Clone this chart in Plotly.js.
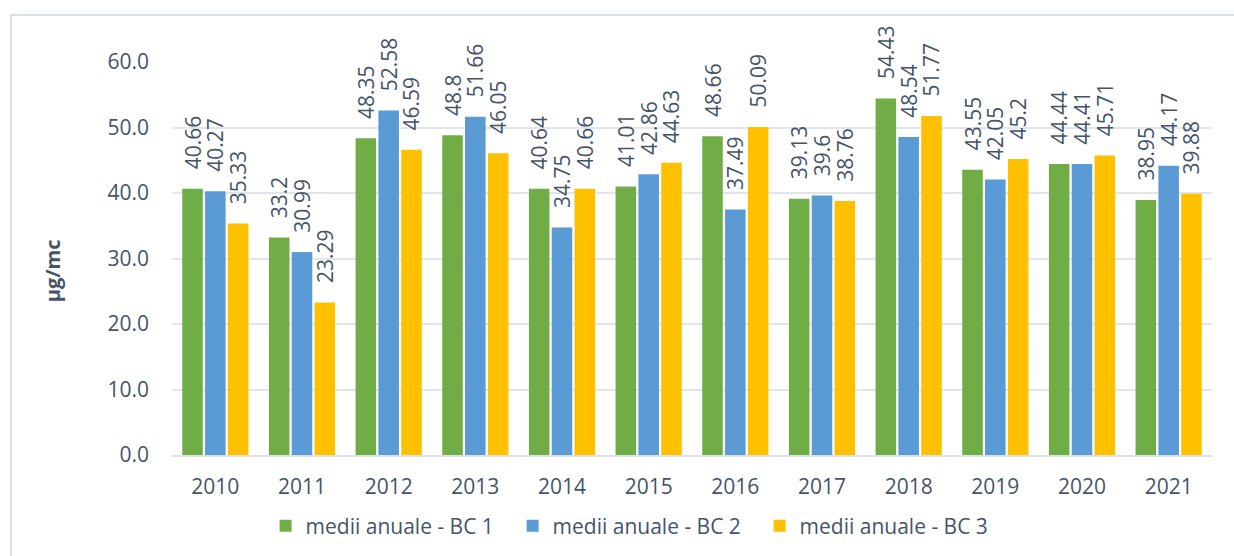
<!DOCTYPE html>
<html>
<head>
<meta charset="utf-8">
<script src="https://cdn.plot.ly/plotly-3.0.1.min.js"></script>
<style>
html,body{margin:0;padding:0;background:#fff;}
#frame{position:absolute;left:10px;top:14px;width:1240px;height:560px;border:2px solid #DCE1E8;box-sizing:border-box;}
#chart{position:absolute;left:0;top:0;width:1234px;height:556px;}
</style>
</head>
<body>
<div id="frame"></div>
<div id="chart"></div>
<script>
const years = ["2010","2011","2012","2013","2014","2015","2016","2017","2018","2019","2020","2021"];
const bc1 = [40.66,33.2,48.35,48.8,40.64,41.01,48.66,39.13,54.43,43.55,44.44,38.95];
const bc2 = [40.27,30.99,52.58,51.66,34.75,42.86,37.49,39.6,48.54,42.05,44.41,44.17];
const bc3 = [35.33,23.29,46.59,46.05,40.66,44.63,50.09,38.76,51.77,45.2,45.71,39.88];
const names = ["medii anuale - BC 1","medii anuale - BC 2","medii anuale - BC 3"];
const yTitle = "µg/mc";
const colors = ["#70AD47","#5B9BD5","#FFC000"];
const font = "Open Sans, Liberation Sans, sans-serif";
const txt = "#44546A";

const series = [bc1, bc2, bc3];
const traces = series.map((vals, i) => ({
  type: "bar",
  x: years,
  y: vals,
  name: names[i],
  marker: {color: colors[i]},
  text: vals.map(v => "\u00A0\u00A0\u00A0" + String(v)),
  textposition: "outside",
  textangle: -90,
  cliponaxis: false,
  constraintext: "none",
  textfont: {family: font, size: 21, color: txt},
  hoverinfo: "none"
}));

const layout = {
  width: 1234, height: 556,
  margin: {l: 172, r: 22, t: 62, b: 101, autoexpand: false},
  paper_bgcolor: "rgba(0,0,0,0)",
  plot_bgcolor: "rgba(0,0,0,0)",
  barmode: "group",
  bargap: 0.21,
  bargroupgap: 0.1,
  font: {family: font, color: txt},
  xaxis: {
    type: "category",
    tickfont: {family: font, size: 21, color: txt},
    showline: true, linecolor: "#DCE1E8", linewidth: 2,
    ticks: "", ticklen: 0,
    ticklabelstandoff: 12,
    automargin: false
  },
  yaxis: {
    range: [0, 60],
    dtick: 10,
    tickformat: ".1f",
    tickfont: {family: font, size: 21, color: txt},
    gridcolor: "#E2E6EC", gridwidth: 2,
    zeroline: false,
    ticklabelstandoff: 22,
    automargin: false
  },
  annotations: [{
    text: yTitle, textangle: -90,
    xref: "paper", yref: "paper", x: -0.1154, y: 0.47,
    xanchor: "center", yanchor: "middle", showarrow: false,
    font: {family: font, size: 20, color: txt, weight: "bold"}
  }],
  showlegend: true,
  legend: {
    orientation: "h",
    x: 0.090, xanchor: "left",
    y: -0.181, yanchor: "middle",
    font: {family: font, size: 21, color: txt},
    itemwidth: 30,
    entrywidth: 202,
    entrywidthmode: "pixels",
    traceorder: "normal"
  }
};

Plotly.newPlot("chart", traces, layout, {displayModeBar: false, staticPlot: true});
</script>
</body>
</html>
